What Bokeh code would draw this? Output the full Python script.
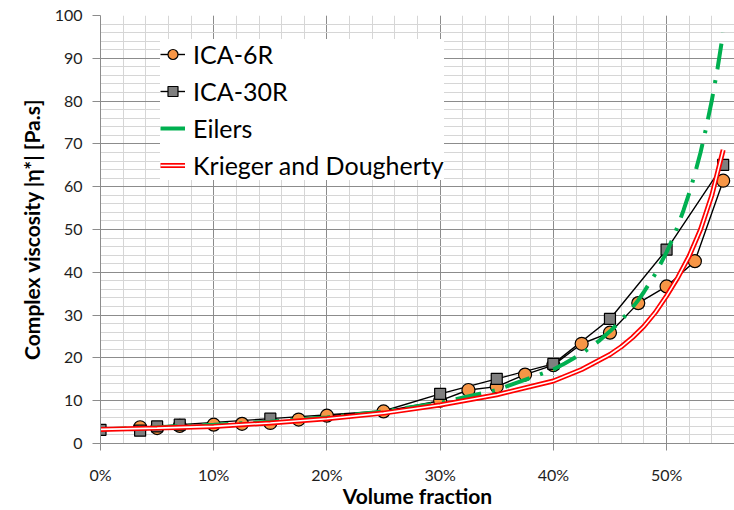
from bokeh.plotting import figure
from bokeh.models import (Range1d, SingleIntervalTicker, NumeralTickFormatter,
                          Legend, LegendItem, ColumnDataSource, CDSView, IndexFilter)
from bokeh.embed import file_html
from bokeh.resources import INLINE

# ---- data ----
phi_6r = [0.035, 0.05, 0.07, 0.10, 0.125, 0.15, 0.175, 0.20, 0.25, 0.30, 0.325,
          0.35, 0.375, 0.40, 0.425, 0.45, 0.475, 0.50, 0.525, 0.55]
eta_6r = [3.8, 3.6, 4.1, 4.4, 4.6, 4.8, 5.6, 6.5, 7.5, 10.0, 12.5,
          13.3, 16.1, 18.3, 23.3, 25.9, 32.8, 36.7, 42.6, 61.4]

phi_30r = [0.0, 0.035, 0.05, 0.07, 0.15, 0.25, 0.30, 0.35, 0.40, 0.45, 0.50, 0.55]
eta_30r = [3.2, 3.0, 4.0, 4.4, 5.8, 7.6, 11.6, 15.1, 18.6, 29.1, 45.3, 65.1]
hidden_30r = [0.25]   # point covered by the ICA-6R marker in the reference

phi_eilers = [0.0, 0.05, 0.10, 0.15, 0.20, 0.25, 0.30, 0.35, 0.40, 0.41, 0.425,
              0.44, 0.45, 0.46, 0.47, 0.475, 0.48, 0.49, 0.50, 0.505, 0.51,
              0.515, 0.52, 0.525, 0.53, 0.535, 0.54, 0.545, 0.55]
eta_eilers = [3.3, 3.8, 4.4, 5.1, 6.1, 7.5, 9.5, 12.5, 17.3, 18.7, 21.0,
              23.9, 26.2, 28.8, 31.8, 33.5, 35.4, 39.6, 44.7, 47.6, 50.9,
              54.5, 58.5, 63.0, 68.0, 73.8, 80.2, 87.6, 96.0]

phi_kd = [0.0, 0.05, 0.10, 0.15, 0.20, 0.25, 0.30, 0.35, 0.40, 0.425, 0.45,
          0.46, 0.47, 0.48, 0.49, 0.50, 0.51, 0.52, 0.53, 0.54, 0.55]
eta_kd = [3.3, 3.6, 4.0, 4.8, 5.8, 7.1, 9.0, 11.4, 14.6, 17.3, 20.8,
          22.6, 24.8, 27.4, 30.6, 34.5, 38.8, 43.8, 50.0, 58.0, 68.6]

x_major_step = 0.1
y_major_step = 10

FONT = "Lato"
TXT = "#1e1e1e"
MAJOR = "#8c8c8c"
MINOR = "#d6d6d6"

p = figure(width=734, height=510, output_backend="svg", toolbar_location=None,
           x_range=Range1d(0, 0.56), y_range=Range1d(0, 100),
           min_border_left=100, min_border_right=0, min_border_top=15,
           min_border_bottom=67)
p.outline_line_color = None
p.background_fill_color = "white"
p.border_fill_color = "white"

xt = SingleIntervalTicker(interval=x_major_step, num_minor_ticks=5)
yt = SingleIntervalTicker(interval=y_major_step, num_minor_ticks=5)
p.xaxis.ticker = xt
p.yaxis.ticker = yt
p.xgrid.ticker = xt
p.ygrid.ticker = yt
p.xaxis.formatter = NumeralTickFormatter(format="0%")

for g in (p.xgrid, p.ygrid):
    g.grid_line_color = MAJOR
    g.grid_line_width = 1
    g.minor_grid_line_color = MINOR
    g.minor_grid_line_width = 1

for ax in (p.xaxis, p.yaxis):
    ax.axis_line_color = MAJOR
    ax.major_tick_line_color = MAJOR
    ax.major_tick_in = 0
    ax.minor_tick_line_color = None
    ax.major_label_text_font = FONT
    ax.major_label_text_font_size = "16px"
    ax.major_label_text_color = TXT
    ax.axis_label_text_font = FONT
    ax.axis_label_text_font_style = "bold"
    ax.axis_label_text_color = "#000000"

p.xaxis.major_tick_out = 7
p.yaxis.major_tick_out = 8
p.xaxis.major_label_standoff = 14
p.yaxis.major_label_standoff = 10
p.xaxis.axis_label_standoff = -4
p.yaxis.axis_label_standoff = 8
p.xaxis.axis_label_text_font_size = "21px"
p.yaxis.axis_label_text_font_size = "21px"
p.xaxis.axis_label = "Volume fraction"
p.yaxis.axis_label = "Complex viscosity |η*| [Pa.s]"

s6 = ColumnDataSource(dict(x=phi_6r, y=eta_6r))
s30 = ColumnDataSource(dict(x=phi_30r, y=eta_30r))
se = ColumnDataSource(dict(x=phi_eilers, y=eta_eilers))
sk = ColumnDataSource(dict(x=phi_kd, y=eta_kd))
view30 = CDSView(filter=IndexFilter(
    [i for i, v in enumerate(phi_30r) if v not in hidden_30r]))

l6 = p.line("x", "y", source=s6, line_color="black", line_width=1.4)
l30 = p.line("x", "y", source=s30, line_color="black", line_width=1.4)
m6 = p.scatter("x", "y", source=s6, marker="circle", size=13,
               fill_color="#F79646", line_color="black", line_width=1.2)
m30 = p.scatter("x", "y", source=s30, view=view30, marker="square", size=11,
                fill_color="#7F7F7F", line_color="black", line_width=1.2)
le = p.line("x", "y", source=se, line_color="#00B050", line_width=4,
            line_dash="26 11 3 11")
kr = p.line("x", "y", source=sk, line_color="#FF0000", line_width=5)
kw = p.line("x", "y", source=sk, line_color="white", line_width=1.6)

legend = Legend(items=[
    LegendItem(label="ICA-6R", renderers=[l6, m6]),
    LegendItem(label="ICA-30R", renderers=[l30, m30]),
    LegendItem(label="Eilers", renderers=[le]),
    LegendItem(label="Krieger and Dougherty", renderers=[kr, kw]),
], location=(60, 263))
legend.background_fill_color = "white"
legend.background_fill_alpha = 1.0
legend.border_line_color = None
legend.padding = 7
legend.margin = 0
legend.spacing = 7
legend.glyph_width = 25
legend.glyph_height = 30
legend.label_height = 30
legend.label_standoff = 8
legend.label_text_font = FONT
legend.label_text_font_size = "25px"
legend.label_text_color = "#000000"
p.add_layout(legend, "center")

open("out.html", "w").write(file_html(p, INLINE))
